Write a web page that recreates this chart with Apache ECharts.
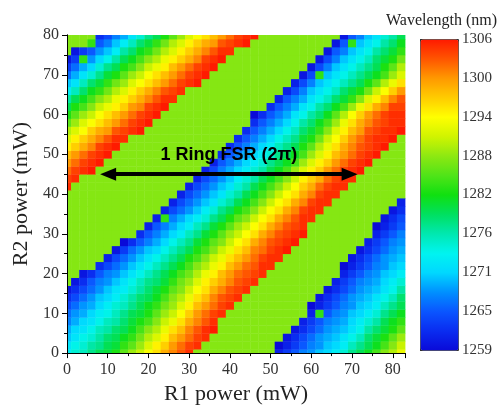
<!DOCTYPE html>
<html>
<head>
<meta charset="utf-8">
<script src="https://cdn.jsdelivr.net/npm/echarts/dist/echarts.min.js"></script>
<style>
  html, body { margin: 0; padding: 0; background: #fff; }
  #chart { width: 499px; height: 410px; }
</style>
</head>
<body>
<div id="chart"></div>
<script>
// grid of the measurement, 2 mW steps
const r1Power = [0, 2, 4, 6, 8, 10, 12, 14, 16, 18, 20, 22, 24, 26, 28, 30, 32, 34, 36, 38, 40,
  42, 44, 46, 48, 50, 52, 54, 56, 58, 60, 62, 64, 66, 68, 70, 72, 74, 76, 78, 80, 82];
const r2Power = [0, 2, 4, 6, 8, 10, 12, 14, 16, 18, 20, 22, 24, 26, 28, 30, 32, 34, 36, 38, 40,
  42, 44, 46, 48, 50, 52, 54, 56, 58, 60, 62, 64, 66, 68, 70, 72, 74, 76, 78, 80];

// wavelength (nm), one row per R2 power value, one column per R1 power value
const wavelength = [
  [1273,1275,1276,1278,1280,1281,1283,1286,1289,1291,1294,1296,1299,1301,1303,1305,1288,1288,1288,1288,1288,1288,1288,1288,1288,1288,1261,1263,1265,1267,1268,1270,1271,1273,1275,1278,1280,1282,1285,1288,1290,1293],
  [1272,1274,1275,1277,1278,1280,1281,1284,1286,1289,1292,1295,1297,1300,1302,1304,1305,1288,1288,1288,1288,1288,1288,1288,1288,1288,1259,1261,1263,1265,1267,1268,1270,1271,1273,1276,1278,1280,1282,1285,1288,1291],
  [1270,1272,1274,1275,1277,1279,1280,1282,1284,1287,1290,1292,1295,1298,1300,1302,1304,1305,1288,1288,1288,1288,1288,1288,1288,1288,1288,1260,1262,1264,1266,1268,1269,1270,1272,1274,1276,1279,1281,1283,1286,1289],
  [1269,1271,1272,1274,1276,1277,1279,1280,1282,1285,1288,1290,1293,1296,1298,1301,1303,1305,1306,1288,1288,1288,1288,1288,1288,1288,1288,1288,1260,1262,1264,1266,1268,1269,1270,1272,1274,1277,1279,1281,1283,1286],
  [1267,1269,1271,1272,1274,1276,1277,1279,1281,1283,1285,1288,1291,1293,1296,1299,1301,1303,1305,1288,1288,1288,1288,1288,1288,1288,1288,1288,1288,1261,1263,1265,1267,1268,1269,1271,1273,1275,1277,1280,1282,1284],
  [1266,1268,1269,1271,1273,1274,1276,1278,1280,1281,1283,1286,1289,1291,1294,1297,1300,1302,1304,1305,1288,1288,1288,1288,1288,1288,1288,1288,1288,1288,1261,1284,1265,1267,1268,1270,1271,1273,1275,1278,1280,1282],
  [1264,1266,1268,1269,1271,1273,1275,1276,1278,1280,1282,1284,1287,1289,1292,1295,1298,1300,1302,1304,1305,1288,1288,1288,1288,1288,1288,1288,1288,1288,1259,1261,1263,1265,1267,1268,1270,1271,1273,1276,1278,1280],
  [1262,1264,1266,1268,1270,1271,1273,1275,1277,1279,1280,1282,1285,1288,1290,1293,1296,1298,1301,1303,1304,1305,1288,1288,1288,1288,1288,1288,1288,1288,1288,1260,1262,1264,1266,1268,1269,1270,1272,1274,1276,1279],
  [1260,1262,1264,1266,1268,1270,1272,1273,1275,1277,1279,1281,1283,1286,1288,1291,1294,1296,1299,1301,1303,1304,1305,1288,1288,1288,1288,1288,1288,1288,1288,1288,1260,1262,1264,1266,1268,1269,1270,1272,1274,1277],
  [1288,1260,1262,1265,1267,1268,1270,1272,1274,1276,1278,1279,1281,1284,1287,1289,1292,1295,1297,1299,1301,1303,1304,1305,1288,1288,1288,1288,1288,1288,1288,1288,1288,1261,1263,1265,1267,1268,1269,1271,1273,1275],
  [1288,1288,1260,1262,1265,1267,1268,1270,1272,1274,1276,1278,1280,1282,1285,1287,1290,1293,1295,1298,1300,1302,1303,1304,1305,1288,1288,1288,1288,1288,1288,1288,1288,1288,1261,1263,1265,1267,1268,1270,1271,1273],
  [1288,1288,1288,1288,1262,1264,1266,1268,1270,1272,1274,1276,1278,1280,1282,1285,1288,1290,1293,1295,1298,1300,1302,1303,1305,1305,1288,1288,1288,1288,1288,1288,1288,1288,1259,1261,1263,1265,1267,1268,1270,1271],
  [1288,1288,1288,1288,1288,1261,1264,1266,1268,1270,1272,1274,1276,1278,1280,1283,1285,1288,1291,1293,1296,1298,1300,1302,1304,1305,1305,1288,1288,1288,1288,1288,1288,1288,1288,1260,1262,1264,1266,1268,1269,1270],
  [1288,1288,1288,1288,1288,1288,1260,1263,1266,1268,1270,1271,1274,1276,1278,1280,1283,1285,1288,1291,1293,1296,1298,1301,1302,1304,1305,1306,1288,1288,1288,1288,1288,1288,1288,1288,1260,1262,1264,1266,1268,1269],
  [1288,1288,1288,1288,1288,1288,1288,1259,1262,1265,1267,1269,1271,1274,1276,1278,1281,1283,1286,1288,1291,1294,1296,1299,1301,1303,1304,1305,1306,1288,1288,1288,1288,1288,1288,1288,1288,1261,1263,1265,1267,1268],
  [1288,1288,1288,1288,1288,1288,1288,1288,1288,1262,1265,1267,1269,1271,1273,1276,1278,1281,1283,1286,1289,1291,1294,1296,1299,1301,1303,1304,1305,1306,1288,1288,1288,1288,1288,1288,1288,1288,1261,1263,1265,1267],
  [1288,1288,1288,1288,1288,1288,1288,1288,1288,1288,1261,1265,1267,1269,1271,1273,1276,1278,1281,1283,1286,1289,1291,1294,1296,1299,1301,1303,1304,1305,1288,1288,1288,1288,1288,1288,1288,1288,1259,1261,1263,1265],
  [1288,1288,1288,1288,1288,1288,1288,1288,1288,1288,1288,1261,1284,1267,1269,1271,1273,1275,1278,1280,1283,1286,1288,1291,1294,1296,1299,1301,1303,1305,1305,1288,1288,1288,1288,1288,1288,1288,1288,1260,1262,1264],
  [1288,1288,1288,1288,1288,1288,1288,1288,1288,1288,1288,1288,1261,1264,1266,1268,1270,1273,1275,1278,1280,1283,1285,1288,1291,1294,1296,1299,1301,1304,1305,1305,1288,1288,1288,1288,1288,1288,1288,1288,1260,1262],
  [1288,1288,1288,1288,1288,1288,1288,1288,1288,1288,1288,1288,1288,1261,1264,1266,1268,1270,1272,1275,1277,1280,1282,1285,1288,1291,1294,1296,1299,1301,1304,1305,1305,1288,1288,1288,1288,1288,1288,1288,1288,1261],
  [1288,1288,1288,1288,1288,1288,1288,1288,1288,1288,1288,1288,1288,1288,1261,1264,1266,1268,1270,1272,1275,1277,1280,1282,1285,1288,1291,1294,1296,1299,1301,1304,1305,1305,1288,1288,1288,1288,1288,1288,1288,1288],
  [1305,1288,1288,1288,1288,1288,1288,1288,1288,1288,1288,1288,1288,1288,1288,1261,1264,1266,1268,1270,1272,1275,1277,1280,1282,1285,1288,1291,1294,1297,1299,1302,1304,1305,1305,1288,1288,1288,1288,1288,1288,1288],
  [1304,1305,1288,1288,1288,1288,1288,1288,1288,1288,1288,1288,1288,1288,1288,1288,1261,1264,1266,1268,1270,1273,1275,1277,1280,1282,1285,1288,1291,1295,1297,1299,1302,1304,1305,1305,1288,1288,1288,1288,1288,1288],
  [1302,1304,1305,1306,1288,1288,1288,1288,1288,1288,1288,1288,1288,1288,1288,1288,1288,1261,1264,1267,1269,1271,1273,1275,1277,1280,1282,1285,1289,1292,1295,1297,1300,1302,1304,1305,1306,1288,1288,1288,1288,1288],
  [1300,1302,1304,1305,1306,1288,1288,1288,1288,1288,1288,1288,1288,1288,1288,1288,1288,1288,1261,1265,1267,1269,1271,1273,1275,1278,1280,1282,1285,1289,1292,1295,1297,1300,1302,1304,1305,1306,1288,1288,1288,1288],
  [1298,1300,1302,1304,1305,1306,1288,1288,1288,1288,1288,1288,1288,1288,1288,1288,1288,1288,1288,1262,1265,1267,1269,1271,1273,1275,1278,1280,1282,1285,1289,1292,1295,1298,1300,1302,1304,1305,1306,1288,1288,1288],
  [1295,1297,1299,1301,1304,1305,1306,1288,1288,1288,1288,1288,1288,1288,1288,1288,1288,1288,1288,1288,1262,1265,1267,1269,1271,1273,1276,1278,1280,1283,1286,1290,1293,1296,1299,1301,1303,1304,1305,1306,1288,1288],
  [1292,1295,1297,1299,1301,1303,1305,1305,1288,1288,1288,1288,1288,1288,1288,1288,1288,1288,1288,1288,1288,1262,1265,1267,1269,1271,1274,1276,1278,1281,1283,1287,1291,1294,1297,1300,1302,1304,1305,1305,1306,1288],
  [1290,1292,1294,1297,1299,1300,1303,1304,1305,1306,1288,1288,1288,1288,1288,1288,1288,1288,1288,1288,1288,1288,1262,1265,1267,1269,1271,1274,1276,1279,1281,1284,1288,1292,1295,1298,1300,1303,1304,1305,1305,1306],
  [1286,1289,1292,1294,1296,1298,1300,1302,1304,1305,1306,1288,1288,1288,1288,1288,1288,1288,1288,1288,1288,1288,1288,1262,1265,1267,1269,1271,1274,1277,1279,1282,1285,1289,1293,1296,1299,1301,1303,1304,1305,1305],
  [1283,1286,1289,1291,1294,1296,1298,1300,1302,1304,1305,1306,1288,1288,1288,1288,1288,1288,1288,1288,1288,1288,1288,1259,1262,1265,1267,1269,1272,1274,1277,1279,1282,1286,1290,1294,1297,1300,1302,1304,1305,1305],
  [1280,1283,1285,1288,1291,1293,1295,1297,1300,1301,1304,1305,1306,1288,1288,1288,1288,1288,1288,1288,1288,1288,1288,1288,1288,1262,1265,1267,1269,1272,1274,1277,1279,1282,1285,1289,1293,1296,1299,1301,1304,1304],
  [1277,1280,1282,1285,1288,1290,1293,1295,1297,1299,1301,1303,1305,1305,1288,1288,1288,1288,1288,1288,1288,1288,1288,1288,1288,1288,1261,1265,1267,1269,1272,1274,1276,1279,1281,1284,1288,1292,1295,1298,1301,1303],
  [1273,1276,1279,1282,1284,1287,1290,1292,1295,1297,1299,1301,1303,1304,1305,1288,1288,1288,1288,1288,1288,1288,1288,1288,1288,1288,1288,1261,1264,1267,1270,1272,1274,1276,1279,1281,1283,1287,1291,1294,1297,1300],
  [1270,1272,1276,1279,1281,1284,1287,1289,1292,1294,1296,1298,1300,1302,1304,1305,1306,1288,1288,1288,1288,1288,1288,1288,1288,1288,1288,1288,1261,1264,1267,1270,1272,1274,1276,1278,1280,1283,1286,1290,1293,1296],
  [1266,1269,1272,1275,1278,1281,1283,1286,1289,1291,1294,1296,1298,1300,1302,1304,1305,1306,1288,1288,1288,1288,1288,1288,1288,1288,1288,1288,1288,1260,1264,1284,1270,1272,1274,1276,1278,1280,1282,1285,1289,1292],
  [1263,1266,1269,1271,1275,1278,1280,1283,1285,1288,1291,1293,1295,1298,1300,1302,1304,1305,1306,1288,1288,1288,1288,1288,1288,1288,1288,1288,1288,1288,1260,1264,1267,1270,1272,1274,1276,1278,1280,1283,1286,1290],
  [1260,1263,1284,1268,1271,1274,1277,1280,1282,1285,1288,1290,1293,1295,1297,1299,1301,1304,1305,1306,1288,1288,1288,1288,1288,1288,1288,1288,1288,1288,1288,1260,1264,1267,1270,1272,1274,1276,1279,1281,1283,1287],
  [1288,1260,1263,1265,1268,1270,1273,1277,1279,1282,1284,1287,1290,1292,1295,1297,1299,1301,1303,1305,1305,1288,1288,1288,1288,1288,1288,1288,1288,1288,1288,1288,1260,1265,1267,1270,1272,1274,1277,1279,1281,1284],
  [1288,1288,1288,1284,1265,1267,1270,1273,1276,1279,1281,1284,1287,1290,1292,1295,1297,1299,1300,1303,1304,1305,1306,1288,1288,1288,1288,1288,1288,1288,1288,1288,1288,1260,1265,1284,1270,1272,1274,1277,1279,1282],
  [1288,1288,1288,1288,1262,1264,1267,1269,1272,1275,1278,1280,1283,1286,1289,1292,1294,1296,1298,1300,1302,1304,1305,1306,1288,1288,1288,1288,1288,1288,1288,1288,1288,1288,1260,1265,1267,1270,1272,1275,1277,1280]
];

const xTicks = [0, 10, 20, 30, 40, 50, 60, 70, 80];
const colorbarLabels = ['1259', '1265', '1271', '1276', '1282', '1288', '1294', '1300', '1306'];
const colorStops = ['#0a0ad8', '#0a2cf0', '#0a55ff', '#0090ff', '#00d8ff', '#00f4f0', '#00e8b0',
  '#00e060', '#10e010', '#50e418', '#8de812', '#d0f400', '#ffff00', '#ffcc00', '#ff9900',
  '#ff5500', '#ff1a00'];
// FSR arrow: from / to R1 power, at R2 power
const fsrArrow = [10.1, 69.4, 45];

const xMax = 83, yMax = 80, step = 2;
const serif = "'Liberation Serif', 'Times New Roman', serif";

const cells = [];
wavelength.forEach((row, j) => {
  row.forEach((v, i) => cells.push([r1Power[i], r2Power[j], v]));
});

function renderCell(params, api) {
  const x = api.value(0), y = api.value(1);
  const x0 = Math.max(x - step / 2, 0), x1 = Math.min(x + step / 2, xMax);
  const y0 = Math.max(y - step / 2, 0), y1 = Math.min(y + step / 2, yMax);
  const p0 = api.coord([x0, y1]);
  const p1 = api.coord([x1, y0]);
  return {
    type: 'rect',
    shape: { x: p0[0], y: p0[1], width: p1[0] - p0[0] + 0.4, height: p1[1] - p0[1] + 0.4 },
    style: { fill: api.visual('color') }
  };
}

const chart = echarts.init(document.getElementById('chart'));

const option = {
  animation: false,
  title: {
    text: 'Wavelength (nm)',
    left: 381, top: 8,
    textStyle: { fontFamily: serif, fontSize: 16, fontWeight: 'normal', color: '#222' }
  },
  grid: [
    { left: 67, top: 35, width: 338, height: 322 },
    { left: 420, top: 39, width: 38, height: 311 }
  ],
  xAxis: [
    {
      type: 'value', gridIndex: 0, min: 0, max: xMax, interval: 10, z: 10,
      name: 'R1 power (mW)', nameLocation: 'middle', nameGap: 27,
      nameTextStyle: { fontFamily: serif, fontSize: 22, color: '#222' },
      axisLine: { lineStyle: { color: '#000', width: 1 } },
      axisTick: { length: 5, lineStyle: { color: '#000' } },
      minorTick: { show: true, splitNumber: 2, length: 3, lineStyle: { color: '#000' } },
      axisLabel: {
        margin: 9, fontFamily: serif, fontSize: 16, color: '#333',
        formatter: v => (xTicks.indexOf(v) >= 0 ? String(v) : '')
      },
      splitLine: { show: false }
    },
    {
      type: 'value', gridIndex: 0, position: 'top', min: 0, max: xMax, z: 10,
      axisLine: { lineStyle: { color: '#000', width: 1 } },
      axisTick: { show: false }, axisLabel: { show: false }, splitLine: { show: false }
    },
    { type: 'value', gridIndex: 1, min: 0, max: 1, show: false }
  ],
  yAxis: [
    {
      type: 'value', gridIndex: 0, min: 0, max: yMax, interval: 10, z: 10,
      name: 'R2 power (mW)', nameLocation: 'middle', nameGap: 30,
      nameTextStyle: { fontFamily: serif, fontSize: 22, color: '#222' },
      axisLine: { show: true, lineStyle: { color: '#000', width: 1 } },
      axisTick: { show: true, length: 5, lineStyle: { color: '#000' } },
      minorTick: { show: true, splitNumber: 2, length: 3, lineStyle: { color: '#000' } },
      axisLabel: { margin: 8, fontFamily: serif, fontSize: 16, color: '#333' },
      splitLine: { show: false }
    },
    {
      type: 'value', gridIndex: 0, position: 'right', min: 0, max: yMax, z: 10,
      axisLine: { show: true, lineStyle: { color: '#000', width: 1 } },
      axisTick: { show: false }, axisLabel: { show: false }, splitLine: { show: false }
    },
    {
      type: 'value', gridIndex: 1, position: 'right', min: 0, max: 8, interval: 1,
      axisLine: { show: false },
      axisTick: { show: true, inside: false, length: 5, lineStyle: { color: '#333' } },
      axisLabel: {
        margin: 4, fontFamily: serif, fontSize: 15, color: '#333',
        formatter: v => colorbarLabels[v]
      },
      splitLine: { show: false }
    }
  ],
  visualMap: {
    type: 'continuous',
    seriesIndex: 0,
    dimension: 2,
    min: 1259, max: 1306,
    calculable: false,
    left: 420, top: 39,
    itemWidth: 38, itemHeight: 311,
    padding: 0,
    text: null,
    borderColor: '#333', borderWidth: 1,
    inRange: { color: colorStops }
  },
  series: [
    {
      type: 'custom',
      xAxisIndex: 0, yAxisIndex: 0,
      renderItem: renderCell,
      encode: { x: 0, y: 1 },
      data: cells
    },
    {
      type: 'line',
      xAxisIndex: 0, yAxisIndex: 0,
      data: [],
      markLine: {
        silent: true,
        symbol: ['triangle', 'triangle'],
        symbolSize: [13, 16],
        lineStyle: { color: '#000', width: 4, type: 'solid' },
        label: {
          show: true,
          position: 'insideMiddleTop',
          distance: 10,
          formatter: '1 Ring FSR (2π)',
          fontFamily: "'Liberation Sans', Arial, sans-serif",
          fontWeight: 'bold',
          fontSize: 18,
          color: '#000'
        },
        data: [[{ coord: [fsrArrow[0], fsrArrow[2]] }, { coord: [fsrArrow[1], fsrArrow[2]] }]]
      }
    }
  ]
};

chart.setOption(option);
</script>
</body>
</html>
